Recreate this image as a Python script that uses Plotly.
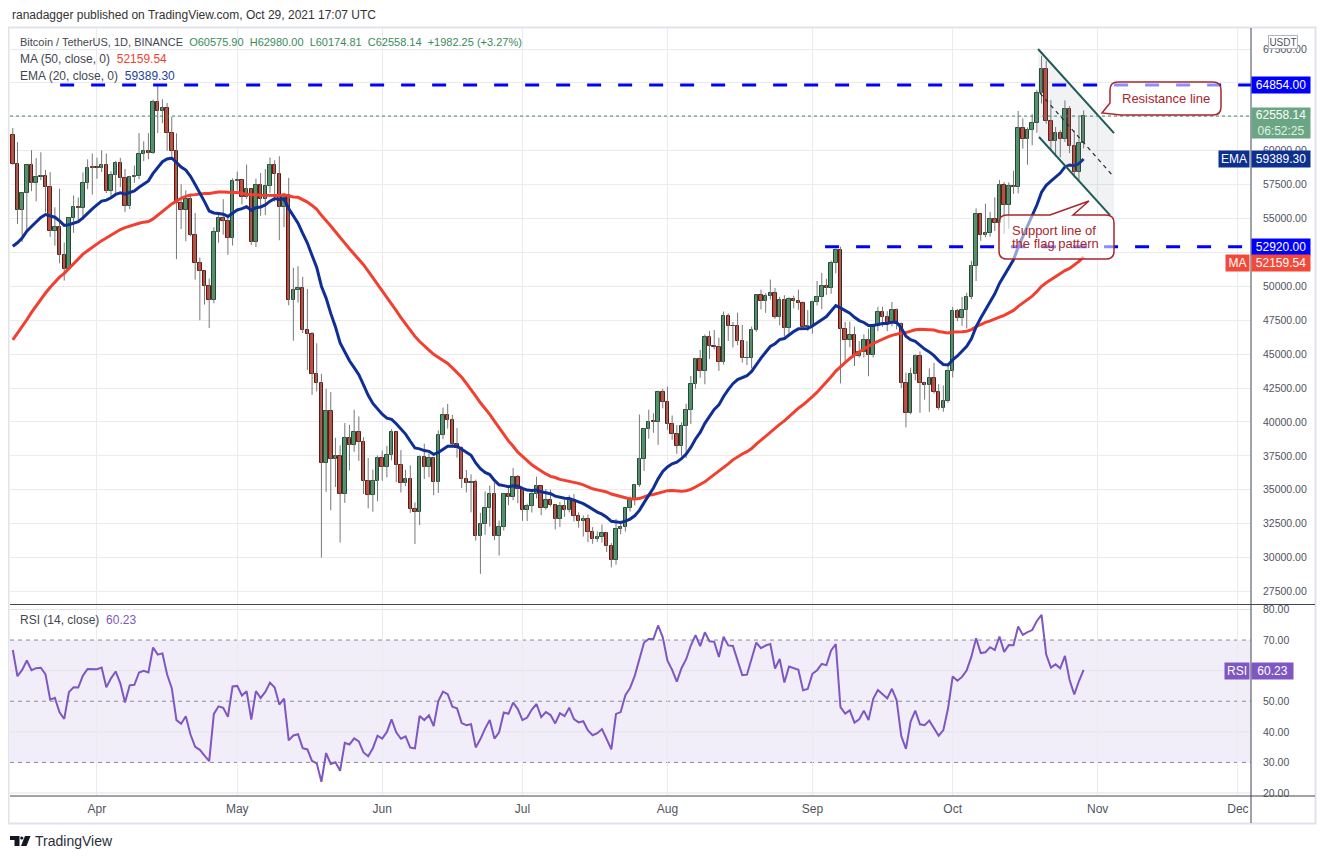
import numpy as np
import pandas as pd
import plotly.graph_objects as go

# ---------------- DATA ----------------
# warm-up closes (2021-01-24 .. 2021-03-13) used only for MA/EMA/RSI history
warm_closes = [32289, 32278, 32520, 30419, 33404, 34317, 34269, 33115,
               33540, 35510, 37472, 36926, 38144, 39266, 38903, 46196, 46481, 44918, 47910, 47504,
               47105, 48717, 47945, 49199, 52149, 51675, 55888, 55886, 57412, 54204, 48891, 49676,
               47073, 46276, 46106, 45135,
               49587, 48440, 50349, 48374, 48751, 48882, 50971, 52375, 54884, 55851, 57773, 57221, 61188]
start_date = "2021-03-14"
end_date = "2021-10-29"

opens = [
    # Mar 14-31
    61188, 59010, 55630, 56900, 58912, 57648, 58030, 58102, 57351, 54083, 54340, 52303, 51293, 55025, 55817, 55777, 57635, 58746,
    # Apr
    58740, 58720, 58950, 57051, 58202, 59120, 57991, 55953, 58077, 58142, 59769, 60007, 59860, 63575, 62959, 63159, 61334, 60006,
    56150, 55633, 56425, 53787, 51690, 51125, 50047, 49004, 54021, 55033, 54824, 53556,
    # May
    57750, 57828, 56610, 57213, 53241, 57473, 56428, 57380, 58928, 58280, 55883, 56750, 49007, 49716, 49880, 46760, 46456, 43538,
    42910, 36964, 40784, 37280, 37528, 34655, 38796, 38325, 39241, 38530, 35664, 34606, 35652,
    # Jun
    37340, 36694, 37568, 39246, 36829, 35514, 35796, 33552, 33380, 37389, 36693, 37313, 35550, 39020, 40516, 40144, 38349, 38092,
    35820, 35483, 35600, 31608, 32509, 33678, 34663, 31584, 32283, 34700, 34494, 35911,
    # Jul
    35045, 33504, 33786, 34669, 35287, 33690, 34220, 33863, 32875, 33815, 33502, 34259, 33086, 32729, 32820, 31880, 31383, 31520,
    31778, 30839, 29790, 32144, 32287, 33634, 34258, 35381, 37267, 39457, 40019, 40016, 42206,
    # Aug
    41461, 39845, 39147, 38207, 39723, 40862, 42836, 44614, 43792, 46285, 45593, 45553, 44428, 47793, 47096, 47047, 45936, 44686,
    44741, 46763, 49339, 48905, 49321, 49546, 47706, 48960, 46942, 49058, 48897, 48767, 46970,
    # Sep
    47100, 48811, 49246, 49999, 49915, 51756, 52663, 46863, 46048, 46395, 44851, 45171, 46025, 44940, 47111, 48121, 47737, 47299,
    48292, 47241, 42843, 40694, 43574, 44895, 42839, 42716, 43208, 42235, 41034, 41564,
    # Oct
    43790, 48165, 47657, 48233, 49245, 51493, 55339, 53797, 53963, 54963, 54690, 57485, 56005, 57367, 57347, 61672, 60875, 61528,
    62009, 64280, 66001, 62193, 60688, 61286, 60852, 63078, 60328, 58413, 60575.9]

highs = [
    61683, 60633, 56938, 58981, 60040, 59453, 59880, 58594, 58420, 55830, 57200, 53230, 55073, 56700, 56559, 58400, 59368, 59800,
    59490, 60036, 59791, 58493, 59251, 59474, 58650, 58153, 58894, 61300, 60700, 61300, 63774, 64854, 63800, 63520, 62500, 61286,
    57526, 57076, 56757, 55410, 52130, 51166, 50567, 54356, 55460, 56428, 55196, 57963,
    58458, 57941, 58981, 57200, 57937, 58360, 58650, 59500, 59300, 59593, 56888, 58000, 51367, 51483, 50700, 49800, 46643, 45800,
    43546, 42451, 42200, 38829, 38270, 39920, 39791, 40900, 40411, 38877, 37338, 36488, 37534,
    37896, 38237, 39476, 39289, 37925, 36480, 36800, 34068, 37534, 38400, 37680, 37440, 39380, 41064, 41330, 40527, 39559, 38202,
    36457, 36137, 35750, 33298, 34881, 35298, 35500, 32730, 34749, 35297, 36600, 36100,
    35036, 33977, 34909, 35967, 35293, 35059, 35000, 33929, 34100, 34262, 34592, 34681, 33340, 33114, 33185, 32249, 31936, 32435,
    31899, 31063, 32858, 32591, 33650, 34500, 35398, 40550, 39542, 40900, 40640, 42316, 42448,
    42599, 40480, 39780, 39969, 41350, 43392, 44700, 45310, 46454, 46718, 46784, 46218, 48144, 48000, 47372, 48053, 47160, 45969,
    47033, 49382, 49757, 49500, 50500, 49875, 49230, 49347, 49200, 49309, 49757, 48888, 48246,
    48953, 50400, 51000, 50558, 51900, 52780, 52920, 47381, 47400, 47027, 45960, 46460, 46876, 47250, 48500, 48500, 48167, 48843,
    48372, 47333, 43639, 44000, 44978, 45200, 42970, 43950, 44350, 42787, 42690, 44132,
    48495, 48336, 49228, 49530, 51886, 55750, 55332, 56100, 55490, 56561, 57839, 57680, 57667, 58532, 62933, 62378, 61718, 62695,
    64486, 67000, 66639, 63732, 61747, 61500, 63710, 63293, 61496, 62499, 62980]

lows = [
    58966, 54600, 53271, 54123, 57023, 56270, 57820, 55450, 53650, 53000, 51700, 50427, 51280, 53950, 54691, 54900, 57168, 56769,
    57935, 58428, 56880, 56478, 56817, 57333, 55473, 55700, 57630, 57902, 59232, 59374, 59770, 61301, 62020, 60000, 59580, 52000,
    54221, 53329, 53695, 50500, 47500, 48657, 46930, 48753, 53223, 53813, 52330, 53013,
    57053, 56035, 56435, 53046, 52900, 55200, 55250, 56900, 56235, 53400, 54370, 48600, 46000, 48800, 46555, 43825, 42001, 42250,
    30000, 34850, 33488, 35200, 31111, 34031, 36419, 37800, 37134, 34684, 33632, 33379, 34153,
    35666, 35920, 37170, 35555, 34800, 35258, 33300, 31000, 32396, 35800, 35936, 34600, 34757, 38730, 39506, 38116, 37365, 35129,
    34803, 33336, 31251, 28805, 31683, 32286, 31275, 30151, 32000, 33862, 34225, 34017,
    32711, 32699, 33326, 34357, 33125, 33532, 33770, 32077, 32261, 33004, 33332, 32658, 32202, 31550, 31133, 31020, 31164, 31108,
    30407, 29278, 29482, 31708, 31924, 33401, 33851, 35205, 36383, 38772, 39200, 38313, 41000,
    39422, 38690, 37642, 37508, 37332, 39853, 42446, 43261, 42779, 44650, 45351, 43770, 44241, 45971, 45500, 45660, 44376, 44203,
    43955, 46646, 48300, 48050, 49029, 47600, 47126, 46315, 46375, 48370, 48264, 46853, 46700,
    46512, 48584, 48316, 49370, 49450, 50969, 42843, 44412, 45513, 44132, 44742, 44750, 43370, 44750, 46700, 47020, 46700, 47050,
    46829, 42500, 39600, 40565, 43069, 40675, 41646, 40750, 42098, 40900, 40753, 41410,
    43283, 47430, 47088, 46891, 49057, 50382, 53357, 53617, 53661, 54080, 54415, 53879, 54253, 56818, 56850, 60150, 58963, 60400,
    61322, 63481, 62000, 60000, 59562, 59510, 60650, 59817, 58000, 57820, 60174.81]

closes = [
    59010, 55630, 56900, 58912, 57648, 58030, 58102, 57351, 54083, 54340, 52303, 51293, 55025, 55817, 55777, 57635, 58746, 58740,
    58720, 58950, 57051, 58202, 59120, 57991, 55953, 58077, 58142, 59769, 60007, 59860, 63575, 62959, 63159, 61334, 60006, 56150,
    55633, 56425, 53787, 51690, 51125, 50047, 49004, 54021, 55033, 54824, 53556, 57750,
    57828, 56610, 57213, 53241, 57473, 56428, 57380, 58928, 58280, 55883, 56750, 49007, 49716, 49880, 46760, 46456, 43538, 42910,
    36964, 40784, 37280, 37528, 34655, 38796, 38325, 39241, 38530, 35664, 34606, 35652, 37340,
    36694, 37568, 39246, 36829, 35514, 35796, 33552, 33380, 37389, 36693, 37313, 35550, 39020, 40516, 40144, 38349, 38092, 35820,
    35483, 35600, 31608, 32509, 33678, 34663, 31584, 32283, 34700, 34494, 35911, 35045,
    33504, 33786, 34669, 35287, 33690, 34220, 33863, 32875, 33815, 33502, 34259, 33086, 32729, 32820, 31880, 31383, 31520, 31778,
    30839, 29790, 32144, 32287, 33634, 34258, 35381, 37267, 39457, 40019, 40016, 42206, 41461,
    39845, 39147, 38207, 39723, 40862, 42836, 44614, 43792, 46285, 45593, 45553, 44428, 47793, 47096, 47047, 45936, 44686, 44741,
    46763, 49339, 48905, 49321, 49546, 47706, 48960, 46942, 49058, 48897, 48767, 46970, 47100,
    48811, 49246, 49999, 49915, 51756, 52663, 46863, 46048, 46395, 44851, 45171, 46025, 44940, 47111, 48121, 47737, 47299, 48292,
    47241, 42843, 40694, 43574, 44895, 42839, 42716, 43208, 42235, 41034, 41564, 43790,
    48165, 47657, 48233, 49245, 51493, 55339, 53797, 53963, 54963, 54690, 57485, 56005, 57367, 57347, 61672, 60875, 61528, 62009,
    64280, 66001, 62193, 60688, 61286, 60852, 63078, 60328, 58413, 60575.9, 62558.14]

month_ticks = ["2021-04-01", "2021-05-01", "2021-06-01", "2021-07-01", "2021-08-01",
               "2021-09-01", "2021-10-01", "2021-11-01", "2021-12-01"]
month_labels = ["Apr", "May", "Jun", "Jul", "Aug", "Sep", "Oct", "Nov", "Dec"]

price_ticks = [27500, 30000, 32500, 35000, 37500, 40000, 42500, 45000, 47500, 50000,
               52500, 55000, 57500, 60000, 62500, 65000, 67500]
price_hidden = [52500, 62500, 65000]          # covered by the price tags
rsi_ticks = [20, 30, 40, 50, 60, 70, 80]
rsi_hidden = [60]

resistance_level = 64854.00
support_level = 52920.00
last_price = 62558.14
ma_last, ema_last, rsi_last = 52159.54, 59389.30, 60.23

# flag (parallel channel) drawing anchors
flag_upper = [("2021-10-19 06:00", 67500), ("2021-11-04 12:00", 61300)]
flag_lower = [("2021-10-19 11:00", 61010), ("2021-11-03 15:00", 55250)]
flag_mid = [("2021-10-19 16:00", 64250), ("2021-11-04 12:00", 58050)]

# ---------------- INDICATORS ----------------
dates = pd.date_range(start_date, end_date, freq="D")
ds = [d.strftime("%Y-%m-%d") for d in dates]
all_close = pd.Series(warm_closes + closes, dtype=float)
nwarm = len(warm_closes)
ma50 = all_close.rolling(50).mean().values[nwarm:]
ema20 = all_close.ewm(span=20, adjust=False).mean().values[nwarm:]
chg = all_close.diff().values
gain = np.where(chg > 0, chg, 0.0)
loss = np.where(chg < 0, -chg, 0.0)
ag = np.full(len(chg), np.nan)
al = np.full(len(chg), np.nan)
ag[14] = gain[1:15].mean()
al[14] = loss[1:15].mean()
for i in range(15, len(chg)):
    ag[i] = (ag[i - 1] * 13 + gain[i]) / 14
    al[i] = (al[i - 1] * 13 + loss[i]) / 14
rsi = (100 - 100 / (1 + ag / al))[nwarm:]

# ---------------- GEOMETRY (reference window pixels) ----------------
OFF = 8                      # page body margin
WIN_W, WIN_H = 1325, 859
FW, FH = WIN_W - 2 * OFF, WIN_H - 2 * OFF
PL, PR, PT, PB = 10, 1251, 28, 796
SEP = 604.5


def px(x):
    return (x - PL) / (PR - PL)


def py(y):
    return (PB - y) / (PB - PT)


def pt(x, y):
    return f"{px(x):.5f},{py(y):.5f}"


FONT = "Liberation Sans"
GREEN_TXT = "#3a8a5e"

fig = go.Figure()

# wicks
wx, wy = [], []
for d, h, l in zip(ds, highs, lows):
    wx += [d, d, None]
    wy += [l, h, None]
fig.add_trace(go.Scatter(x=wx, y=wy, mode="lines", line=dict(color="#777777", width=1),
                         hoverinfo="skip", showlegend=False, xaxis="x", yaxis="y"))
# bodies
base = [min(o, c) for o, c in zip(opens, closes)]
hgt = [max(abs(c - o), 45) for o, c in zip(opens, closes)]
fill = ["#4a9a6a" if c >= o else "#d0402e" for o, c in zip(opens, closes)]
edge = ["#1d4a31" if c >= o else "#5e1a12" for o, c in zip(opens, closes)]
fig.add_trace(go.Bar(x=ds, y=hgt, base=base, width=0.74 * 86400000,
                     marker=dict(color=fill, line=dict(color=edge, width=1)),
                     showlegend=False, xaxis="x", yaxis="y"))
# MA / EMA
fig.add_trace(go.Scatter(x=ds, y=ma50, mode="lines", line=dict(color="#f23f30", width=3),
                         showlegend=False, xaxis="x", yaxis="y"))
fig.add_trace(go.Scatter(x=ds, y=ema20, mode="lines", line=dict(color="#0f2f96", width=3),
                         showlegend=False, xaxis="x", yaxis="y"))
# RSI
fig.add_trace(go.Scatter(x=ds, y=rsi, mode="lines", line=dict(color="#7e57c2", width=2),
                         showlegend=False, xaxis="x2", yaxis="y2"))

x_range = ["2021-03-13 09:40", "2021-12-03 19:00"]

shapes = []
# RSI band and lines
shapes.append(dict(type="rect", xref="paper", yref="y2", x0=0, x1=1, y0=30, y1=70,
                   fillcolor="rgba(126,87,194,0.10)", line=dict(width=0), layer="below"))
for lv in [80, 60, 40, 20]:
    shapes.append(dict(type="line", xref="paper", yref="y2", x0=0, x1=1, y0=lv, y1=lv,
                       line=dict(color="#e3e3e6", width=1), layer="below"))
for lv in [70, 50, 30]:
    shapes.append(dict(type="line", xref="paper", yref="y2", x0=0, x1=1, y0=lv, y1=lv,
                       line=dict(color="#8a8d96", width=1, dash="4px,4px"), layer="below"))

# flag channel
poly = (f"M {flag_upper[0][0].replace(' ', '_')},{flag_upper[0][1]} "
        f"L {flag_upper[1][0].replace(' ', '_')},{flag_upper[1][1]} "
        f"L {flag_upper[1][0].replace(' ', '_')},{flag_lower[1][1] - 300} "
        f"L {flag_upper[0][0].replace(' ', '_')},{flag_lower[0][1] + 60} Z")
shapes.append(dict(type="path", xref="x", yref="y", path=poly,
                   fillcolor="rgba(120,123,134,0.10)", line=dict(width=0), layer="above"))
for seg in (flag_upper, flag_lower):
    shapes.append(dict(type="line", xref="x", yref="y", x0=seg[0][0], y0=seg[0][1], x1=seg[1][0], y1=seg[1][1],
                       line=dict(color="#1e5b57", width=2), layer="above"))
shapes.append(dict(type="line", xref="x", yref="y", x0=flag_mid[0][0], y0=flag_mid[0][1],
                   x1=flag_mid[1][0], y1=flag_mid[1][1],
                   line=dict(color="#2a2e39", width=1.3, dash="4px,4px"), layer="above"))

# horizontal level lines
shapes.append(dict(type="line", xref="x", yref="y", x0="2021-03-24 03:00", x1=x_range[1],
                   y0=resistance_level, y1=resistance_level,
                   line=dict(color="#0000ff", width=3, dash="14px,17px"), layer="above"))
shapes.append(dict(type="line", xref="x", yref="y", x0="2021-09-03 17:00", x1=x_range[1],
                   y0=support_level, y1=support_level,
                   line=dict(color="#0000ff", width=3, dash="14px,17px"), layer="above"))
shapes.append(dict(type="line", xref="paper", yref="y", x0=0, x1=1, y0=last_price, y1=last_price,
                   line=dict(color=GREEN_TXT, width=1, dash="dot"), layer="above"))


# callouts
def callout(L, T, R, B, r, tail):
    if tail[0] == "bottom":
        _, bx, tx, ty, ly = tail
        d = (f"M {pt(L + r, T)} L {pt(R - r, T)} Q {pt(R, T)} {pt(R, T + r)} L {pt(R, B - r)} "
             f"Q {pt(R, B)} {pt(R - r, B)} L {pt(bx, B)} L {pt(tx, ty)} L {pt(L, ly)} "
             f"L {pt(L, T + r)} Q {pt(L, T)} {pt(L + r, T)} Z")
    else:
        _, a, tx, ty, b = tail
        d = (f"M {pt(L + r, T)} L {pt(a, T)} L {pt(tx, ty)} L {pt(b, T)} L {pt(R - r, T)} "
             f"Q {pt(R, T)} {pt(R, T + r)} L {pt(R, B - r)} Q {pt(R, B)} {pt(R - r, B)} "
             f"L {pt(L + r, B)} Q {pt(L, B)} {pt(L, B - r)} L {pt(L, T + r)} Q {pt(L, T)} {pt(L + r, T)} Z")
    return dict(type="path", xref="paper", yref="paper", path=d,
                fillcolor="rgba(255,255,255,0.55)", line=dict(color="#a8262c", width=1.5), layer="above")


shapes.append(callout(1110, 82, 1221, 115, 8, ("bottom", 1121, 1102, 113, 103)))
shapes.append(callout(999, 215, 1114, 259, 8, ("top", 1050, 1089, 201, 1073)))

# pane separators / axis lines / frame
shapes.append(dict(type="line", xref="paper", yref="paper", x0=px(PL), x1=px(1315), y0=py(SEP), y1=py(SEP),
                   line=dict(color="#434651", width=1), layer="above"))
shapes.append(dict(type="line", xref="paper", yref="paper", x0=px(PL), x1=px(1315), y0=py(PB), y1=py(PB),
                   line=dict(color="#434651", width=1), layer="above"))
shapes.append(dict(type="line", xref="paper", yref="paper", x0=px(PR), x1=px(PR), y0=py(PT), y1=py(823),
                   line=dict(color="#434651", width=1), layer="above"))
shapes.append(dict(type="rect", xref="paper", yref="paper", x0=px(8.5), x1=px(1315.5), y0=py(823.5), y1=py(27.5),
                   line=dict(color="#e0e3eb", width=2), layer="below"))

# TradingView logo
shapes.append(dict(type="path", xref="paper", yref="paper",
                   path=f"M {pt(10, 836)} L {pt(19.5, 836)} L {pt(19.5, 846)} L {pt(14.5, 846)} L {pt(14.5, 840)} L {pt(10, 840)} Z",
                   fillcolor="#131722", line=dict(width=0)))
shapes.append(dict(type="circle", xref="paper", yref="paper", x0=px(20.2), x1=px(23.4), y0=py(839.6), y1=py(836.4),
                   fillcolor="#131722", line=dict(width=0)))
shapes.append(dict(type="path", xref="paper", yref="paper",
                   path=f"M {pt(25, 836)} L {pt(30.5, 836)} L {pt(26.5, 846)} L {pt(21, 846)} Z",
                   fillcolor="#131722", line=dict(width=0)))

ann = []


def txt(x, y, text, size=12, color="#434651", xanchor="left", **kw):
    ann.append(dict(xref="paper", yref="paper", x=px(x), y=py(y), text=text, showarrow=False,
                    xanchor=xanchor, yanchor="middle", font=dict(family=FONT, size=size, color=color), **kw))


S = "\u00a0"
txt(10, 15, "ranadagger published on TradingView.com, Oct 29, 2021 17:07 UTC", 12, "#333333")
txt(18, 42, f"Bitcoin / TetherUS, 1D, BINANCE{S}{S}<span style='color:{GREEN_TXT}'>O60575.90{S}{S}H62980.00{S}{S}"
            f"L60174.81{S}{S}C62558.14{S}{S}+1982.25 (+3.27%)</span>", 11)
txt(18, 59, f"MA (50, close, 0){S}{S}<span style='color:#f23f30'>{ma_last:.2f}</span>", 12)
txt(18, 76, f"EMA (20, close, 0){S}{S}<span style='color:#1f3f9f'>{ema_last:.2f}</span>", 12)
txt(18, 620, f"RSI (14, close){S}{S}<span style='color:#7e57c2'>{rsi_last:.2f}</span>", 12)

txt(1165.5, 98, "Resistance line", 13, "#a8262c", xanchor="center")
txt(1010, 230.5, "Support line of", 13, "#a8262c")
txt(1010, 243.5, "the flag pattern", 13, "#a8262c")

txt(33, 841, "TradingView", 14, "#2a2e39")


def label(x0, x1, y, text, bg, h=16, color="white", size=12, border=None):
    d = dict(xref="paper", yref="paper", x=px((x0 + x1) / 2), y=py(y), text=text, showarrow=False,
             xanchor="center", yanchor="middle", width=x1 - x0, height=h, bgcolor=bg, borderpad=0,
             align="center", font=dict(family=FONT, size=size, color=color))
    if border:
        d.update(bordercolor=border, borderwidth=1)
    ann.append(d)


label(1252, 1310, 85.5, "64854.00", "#0000ff")
label(1252, 1310, 123, "62558.14<br><span style='color:#e2f0e7'>06:52:25</span>", "#6aa683", h=30)
label(1219, 1249, 159, "EMA", "#0d2f8f")
label(1252, 1310, 159, "59389.30", "#0d2f8f")
label(1252, 1310, 246.5, "52920.00", "#0000ff")
label(1226, 1249, 263, "MA", "#f2493b")
label(1252, 1310, 263, "52159.54", "#f2493b")
label(1225, 1249, 671, "RSI", "#7e57c2")
label(1252, 1293, 671, "60.23", "#7e57c2")
label(1269, 1297, 41.5, "USDT", "white", h=12, color="#50535e", size=10, border="#b2b5be")

price_text = ["" if v in price_hidden else f"{v:.2f}" for v in price_ticks]
rsi_text = ["" if v in rsi_hidden else f"{v:.2f}" for v in rsi_ticks]

grid = "#ebebed"
fig.update_layout(
    width=FW, height=FH,
    margin=dict(l=PL - OFF, r=FW - (PR - OFF), t=PT - OFF, b=FH - (PB - OFF)),
    paper_bgcolor="white", plot_bgcolor="white",
    barmode="overlay", bargap=0, showlegend=False,
    font=dict(family=FONT, size=11, color="#50535e"),
    xaxis=dict(domain=[0, 1], anchor="y", range=x_range, type="date", tickvals=month_ticks,
               showticklabels=False, showgrid=True, gridcolor=grid, zeroline=False, showline=False, ticks=""),
    xaxis2=dict(domain=[0, 1], anchor="y2", matches="x", range=x_range, type="date", tickvals=month_ticks,
                ticktext=month_labels, showgrid=True, gridcolor=grid, zeroline=False, showline=False, ticks="",
                ticklabelstandoff=4, tickfont=dict(family=FONT, size=12, color="#50535e")),
    yaxis=dict(domain=[py(SEP), 1], anchor="x", side="right", range=[26541, 69050],
               tickvals=price_ticks, ticktext=price_text, showgrid=True, gridcolor=grid, zeroline=False,
               showline=False, ticks="", ticklabelstandoff=11,
               tickfont=dict(family=FONT, size=10.5, color="#50535e")),
    yaxis2=dict(domain=[0, py(SEP + 1)], anchor="x2", side="right", range=[19.02, 81.3],
                tickvals=rsi_ticks, ticktext=rsi_text, showgrid=False, zeroline=False,
                showline=False, ticks="", ticklabelstandoff=11,
                tickfont=dict(family=FONT, size=10.5, color="#50535e")),
    shapes=shapes, annotations=ann,
)

fig.write_html("out.html")
